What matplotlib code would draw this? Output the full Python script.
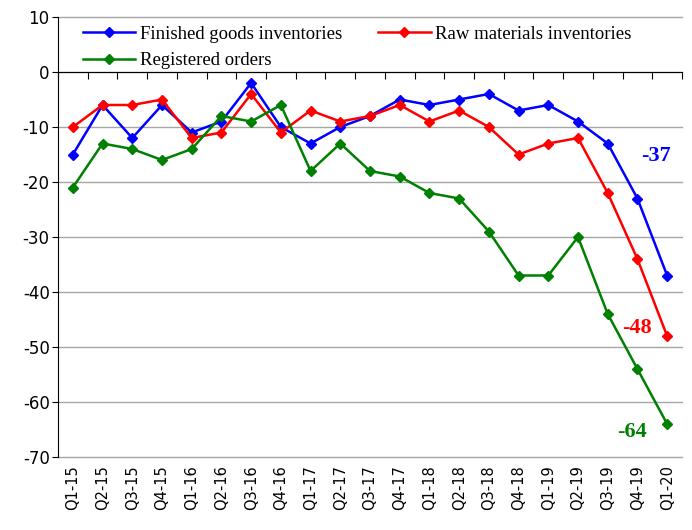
import matplotlib
matplotlib.use("Agg")
import matplotlib.pyplot as plt
import numpy as np

quarters = ["Q1-15", "Q2-15", "Q3-15", "Q4-15", "Q1-16", "Q2-16", "Q3-16", "Q4-16",
            "Q1-17", "Q2-17", "Q3-17", "Q4-17", "Q1-18", "Q2-18", "Q3-18", "Q4-18",
            "Q1-19", "Q2-19", "Q3-19", "Q4-19", "Q1-20"]
finished = [-15, -6, -12, -6, -11, -9, -2, -10, -13, -10, -8, -5, -6, -5, -4, -7, -6, -9, -13, -23, -37]
raw = [-10, -6, -6, -5, -12, -11, -4, -11, -7, -9, -8, -6, -9, -7, -10, -15, -13, -12, -22, -34, -48]
orders = [-21, -13, -14, -16, -14, -8, -9, -6, -18, -13, -18, -19, -22, -23, -29, -37, -37, -30, -44, -54, -64]
yticks = [10, 0, -10, -20, -30, -40, -50, -60, -70]

fig = plt.figure(figsize=(6.92, 5.30), dpi=100)
ax = fig.add_axes([58/692, 1-457/530, (682-58)/692, (457-17)/530])

x = np.arange(len(quarters))
serif = "Liberation Serif"
l1, = ax.plot(x, finished, color="#0000ff", lw=1.8, marker="D", ms=5, label="Finished goods inventories")
l2, = ax.plot(x, raw, color="#ff0000", lw=1.8, marker="D", ms=5, label="Raw materials inventories")
l3, = ax.plot(x, orders, color="#008000", lw=1.8, marker="D", ms=5, label="Registered orders")

ax.set_xlim(-0.5, len(quarters)-0.5)
ax.set_ylim(-70, 10)
ax.set_yticks(yticks)
ax.set_yticklabels([str(v) for v in yticks], fontsize=12)
ax.yaxis.grid(True, color="#a6a6a6", lw=1)
for gl in ax.get_ygridlines():
    gl.set_clip_on(False)
ax.set_axisbelow(True)
for s in ["top", "right"]:
    ax.spines[s].set_visible(False)
ax.spines["left"].set_color("black")
ax.spines["bottom"].set_position(("data", 0))
ax.spines["bottom"].set_color("black")
ax.spines["bottom"].set_zorder(1.5)
ax.set_xticks(np.arange(len(quarters)+1) - 0.5)
ax.tick_params(axis="x", direction="out", length=5, labelbottom=False, color="black")
ax.tick_params(axis="y", direction="out", length=4, pad=2)

sec = ax.secondary_xaxis("bottom")
sec.set_xticks(x)
sec.set_xticklabels(quarters, rotation=90, fontsize=10.5)
sec.tick_params(length=0, pad=6)
sec.spines["bottom"].set_visible(False)

leg = ax.legend(handles=[l1, l3, l2], ncol=2, loc="upper left", bbox_to_anchor=(0.04, 0.98),
                frameon=False, prop={"family": serif, "size": 13.5}, handlelength=2.8,
                handletextpad=0.25, columnspacing=1.9, labelspacing=0.5, borderaxespad=0, borderpad=0)

ax.annotate(str(finished[-1]), xy=(x[-1], finished[-1]), xytext=(-8, 86), textcoords="offset points",
            color="#0000ff", fontsize=16, fontweight="bold", family=serif, ha="center", va="center")
ax.annotate(str(raw[-1]), xy=(x[-1], raw[-1]), xytext=(-22, 6), textcoords="offset points",
            color="#ff0000", fontsize=16, fontweight="bold", family=serif, ha="center", va="center")
ax.annotate(str(orders[-1]), xy=(x[-1], orders[-1]), xytext=(-25, -6), textcoords="offset points",
            color="#008000", fontsize=16, fontweight="bold", family=serif, ha="center", va="center")

fig.savefig("out.png", dpi=100)
